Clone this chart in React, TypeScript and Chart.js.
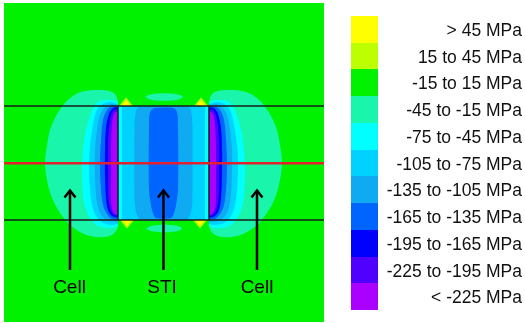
import React, { useEffect, useRef } from "react";
import { Chart, registerables } from "chart.js";

Chart.register(...registerables);

// ---------- legend (contour bands) ----------
const legendLabels = [
  "> 45 MPa",
  "15 to 45 MPa",
  "-15 to 15 MPa",
  "-45 to -15 MPa",
  "-75 to -45 MPa",
  "-105 to -75 MPa",
  "-135 to -105 MPa",
  "-165 to -135 MPa",
  "-195 to -165 MPa",
  "-225 to -195 MPa",
  "< -225 MPa",
];
const bandColors = [
  "#ffff00",
  "#bbff00",
  "#00f200",
  "#19f5aa",
  "#00ffff",
  "#00d2ff",
  "#10aaf2",
  "#0064ff",
  "#0000ff",
  "#5000ff",
  "#aa00ff",
];
const [C_YEL, C_YG, C_GRN, C_AQUA, C_CYAN, C_SKY, C_MED, C_MDARK, C_BLUE, C_PURP, C_VIOL] = bandColors;

// ---------- contour regions (section coordinates) ----------
const domain: number[][] = [[4, 3], [324, 3], [324, 322], [4, 322]];

const aquaTop: number[][] = [[145, 97], [150, 94.6], [157, 93.5], [164, 93.2], [171, 93.5], [178, 94.6], [183, 97], [178, 99.4], [171, 100.5], [164, 100.8], [157, 100.5], [150, 99.4], [145, 97]];
const aquaBottom: number[][] = [[146, 228.5], [151, 226], [158, 225], [164, 224.7], [171, 225], [178, 226], [182, 228.5], [178, 231], [171, 232], [164, 232.3], [158, 232], [151, 231], [146, 228.5]];

const aquaLeft: number[][] = [[118, 101], [115, 94], [109, 91], [100, 90], [88, 90.5], [77, 93.5], [68, 100], [61, 108], [55, 118], [50, 130], [47, 145], [45, 163], [47, 180], [52, 198], [60, 213], [70, 225], [80, 232], [92, 236.5], [104, 237], [112, 235], [116, 231], [118, 227]];
const aquaRight: number[][] = [[209, 101], [212, 94], [218, 91], [227, 90], [239, 90.5], [250, 93.5], [259, 100], [266, 108], [272, 118], [277, 130], [280, 145], [282, 163], [280, 180], [275, 198], [267, 213], [257, 225], [247, 232], [235, 236.5], [223, 237], [215, 235], [211, 231], [209, 227]];

const cyanLeft: number[][] = [[118, 103], [114, 100.5], [107, 100], [100, 101], [95, 105], [91, 113], [86, 130], [83, 150], [82, 170], [83, 195], [86, 210], [92, 221], [100, 227], [112, 228], [118, 226]];
const cyanRight: number[][] = [[209, 103], [213, 100.5], [220, 100], [227, 101], [232, 105], [236, 113], [241, 130], [244, 150], [245, 170], [244, 195], [241, 210], [235, 221], [227, 227], [215, 228], [209, 226]];

const skyLeft: number[][] = [[118, 104], [110, 102], [103, 104], [97, 110], [93, 125], [90, 145], [89, 165], [90, 190], [92, 205], [96, 216], [103, 223], [112, 225], [118, 224]];
const skyRight: number[][] = [[209, 104], [217, 102], [224, 104], [230, 110], [234, 125], [237, 145], [238, 165], [237, 190], [235, 205], [231, 216], [224, 223], [215, 225], [209, 224]];

const medLeft: number[][] = [[118, 105], [111, 104], [105, 107], [100, 115], [97, 130], [95, 150], [95, 170], [96, 195], [98, 207], [102, 216], [109, 221], [118, 222]];
const medRight: number[][] = [[209, 105], [216, 104], [222, 107], [227, 115], [230, 130], [232, 150], [232, 170], [231, 195], [229, 207], [225, 216], [218, 221], [209, 222]];

const mdarkLeft: number[][] = [[118, 106], [112, 106], [107, 110], [103, 120], [101, 140], [100, 163], [101, 190], [103, 205], [107, 214], [112, 219], [118, 220]];
const mdarkRight: number[][] = [[209, 106], [215, 106], [220, 110], [224, 120], [226, 140], [227, 163], [226, 190], [224, 205], [220, 214], [215, 219], [209, 220]];

const blueLeft: number[][] = [[118, 107], [113, 108], [109, 114], [106, 128], [105, 150], [105, 175], [106, 198], [108, 210], [112, 216], [118, 218]];
const blueRight: number[][] = [[209, 107], [214, 108], [218, 114], [221, 128], [222, 150], [222, 175], [221, 198], [219, 210], [215, 216], [209, 218]];

const purpLeft: number[][] = [[118, 109], [113, 111], [110, 120], [108, 140], [108, 170], [108, 195], [110, 208], [113, 214], [118, 216]];
const purpRight: number[][] = [[209, 109], [214, 111], [217, 120], [219, 140], [219, 170], [219, 195], [217, 208], [214, 214], [209, 216]];

const violLeft: number[][] = [[118, 111], [114, 114], [112, 125], [111, 145], [111, 175], [111, 200], [112, 209], [115, 214], [118, 215]];
const violRight: number[][] = [[209, 111], [213, 114], [215, 125], [216, 145], [216, 175], [216, 200], [215, 209], [212, 214], [209, 215]];

const ygTL: number[][] = [[119, 106], [126, 97.5], [133, 106]];
const ygTR: number[][] = [[194, 106], [201, 97.5], [208, 106]];
const ygBL: number[][] = [[120, 220], [127, 228.5], [134, 220]];
const ygBR: number[][] = [[193, 220], [200, 228.5], [207, 220]];
const yTL: number[][] = [[121.5, 106], [126, 100], [130.5, 106]];
const yTR: number[][] = [[196.5, 106], [201, 100], [205.5, 106]];
const yBL: number[][] = [[122.5, 220], [127, 226], [131.5, 220]];
const yBR: number[][] = [[195.5, 220], [200, 226], [204.5, 220]];

const stiCyan: number[][] = [[118, 106], [209, 106], [209, 220], [118, 220]];
const stiSky: number[][] = [[122, 106], [205, 106], [205, 220], [122, 220]];
const stiMed: number[][] = [[140, 106], [187, 106], [191, 110], [192.5, 125], [192.5, 200], [191, 212], [187, 220], [140, 220], [136, 212], [134.5, 200], [134.5, 125], [136, 110]];
const stiDark: number[][] = [[154, 108], [173, 108], [177, 112], [178, 125], [178, 190], [176, 205], [174, 213], [171, 218], [156, 218], [153, 213], [151, 205], [149, 190], [149, 125], [150, 112], [154, 108]];

// ---------- lines ----------
const cutTop: number[][] = [[4, 106], [324, 106]];
const cutBottom: number[][] = [[4, 220], [324, 220]];
const cutRed: number[][] = [[4, 163.3], [324, 163.3]];
const stiEdgeL: number[][] = [[118, 106], [118, 220]];
const stiEdgeR: number[][] = [[209, 106], [209, 220]];

// ---------- annotations ----------
const annotationLabels = ["Cell", "STI", "Cell"];
const annotationX = [69.5, 162, 257];
const annotationY = [293, 293, 293];
const arrowShafts: number[][][] = [
  [[70, 191], [70, 270]],
  [[163.5, 191], [163.5, 270]],
  [[257, 191], [257, 270]],
];
const arrowHeads: number[][][] = [
  [[64.5, 197.5], [70, 190.5], [75.5, 197.5]],
  [[158, 197.5], [163.5, 190.5], [169, 197.5]],
  [[251.5, 197.5], [257, 190.5], [262.5, 197.5]],
];

const FONT = '"Liberation Sans", Arial, Helvetica, sans-serif';

function region(pts: number[][], color: string, tension = 0.35) {
  return {
    type: "line" as const,
    data: pts.map(([x, y]) => ({ x, y })),
    backgroundColor: color,
    borderColor: color,
    borderWidth: 0,
    fill: "shape",
    pointRadius: 0,
    tension,
  };
}
function stroke(pts: number[][], color: string, width: number) {
  return {
    type: "line" as const,
    data: pts.map(([x, y]) => ({ x, y })),
    borderColor: color,
    backgroundColor: color,
    borderWidth: width,
    fill: false,
    pointRadius: 0,
    tension: 0,
    borderCapStyle: "butt",
    borderJoinStyle: "miter",
  };
}

const labelPlugin = {
  id: "sectionLabels",
  afterDatasetsDraw(chart: any) {
    const { ctx, scales } = chart;
    ctx.save();
    ctx.fillStyle = "#000";
    ctx.font = `19px ${FONT}`;
    ctx.textAlign = "center";
    ctx.textBaseline = "alphabetic";
    annotationLabels.forEach((t, i) => {
      ctx.fillText(t, scales.x.getPixelForValue(annotationX[i]), scales.y.getPixelForValue(annotationY[i]));
    });
    ctx.restore();
  },
};

export default function App() {
  const ref = useRef<HTMLCanvasElement | null>(null);

  useEffect(() => {
    if (!ref.current) return;
    const paint: any[] = [
      region(domain, C_GRN, 0),
      region(aquaTop, C_AQUA, 0.4),
      region(aquaBottom, C_AQUA, 0.4),
      region(aquaLeft, C_AQUA),
      region(aquaRight, C_AQUA),
      region(cyanLeft, C_CYAN),
      region(cyanRight, C_CYAN),
      region(skyLeft, C_SKY),
      region(skyRight, C_SKY),
      region(medLeft, C_MED),
      region(medRight, C_MED),
      region(mdarkLeft, C_MDARK),
      region(mdarkRight, C_MDARK),
      region(blueLeft, C_BLUE),
      region(blueRight, C_BLUE),
      region(purpLeft, C_PURP),
      region(purpRight, C_PURP),
      region(violLeft, C_VIOL),
      region(violRight, C_VIOL),
      region(ygTL, C_YG, 0),
      region(ygTR, C_YG, 0),
      region(ygBL, C_YG, 0),
      region(ygBR, C_YG, 0),
      region(yTL, C_YEL, 0),
      region(yTR, C_YEL, 0),
      region(yBL, C_YEL, 0),
      region(yBR, C_YEL, 0),
      region(stiCyan, C_CYAN, 0),
      region(stiSky, C_SKY, 0),
      region(stiMed, C_MED, 0.15),
      region(stiDark, C_MDARK, 0.3),
      stroke(cutTop, "#1a1a1a", 1.5),
      stroke(cutBottom, "#1a1a1a", 1.5),
      stroke(stiEdgeL, "#1a1a1a", 1.5),
      stroke(stiEdgeR, "#1a1a1a", 1.5),
      stroke(cutRed, "#e3202e", 2.5),
      ...arrowShafts.map((s) => stroke(s, "#000", 2.5)),
      ...arrowHeads.map((h) => stroke(h, "#000", 2.5)),
    ];
    const datasets = paint.map((d, i) => ({ ...d, order: paint.length - i }));

    const chart = new Chart(ref.current, {
      type: "line",
      data: { datasets },
      options: {
        animation: false,
        responsive: false,
        maintainAspectRatio: false,
        events: [],
        layout: { padding: { left: 4, top: 3, right: 201, bottom: 1 } },
        scales: {
          x: { type: "linear", min: 4, max: 324, display: false },
          y: { type: "linear", min: 3, max: 322, reverse: true, display: false },
        },
        plugins: { legend: { display: false }, tooltip: { enabled: false } },
      } as any,
      plugins: [labelPlugin],
    });
    return () => chart.destroy();
  }, []);

  const boxTop = 16;
  const boxH = 294 / legendLabels.length;

  return (
    <div style={{ position: "absolute", left: 0, top: 0, width: 525, height: 323, background: "#fff", overflow: "hidden" }}>
      <canvas ref={ref} width={525} height={323} style={{ position: "absolute", left: 0, top: 0, width: 525, height: 323 }} />
      {legendLabels.map((lab, i) => (
        <React.Fragment key={lab}>
          <div
            style={{
              position: "absolute",
              left: 351,
              width: 27,
              top: boxTop + i * boxH,
              height: boxH + 0.5,
              background: bandColors[i],
            }}
          />
          <div
            style={{
              position: "absolute",
              right: 3,
              top: boxTop + i * boxH + 1,
              height: boxH,
              lineHeight: `${boxH}px`,
              fontFamily: FONT,
              fontSize: 17.5,
              color: "#111",
              whiteSpace: "nowrap",
              textAlign: "right",
            }}
          >
            {lab}
          </div>
        </React.Fragment>
      ))}
    </div>
  );
}
